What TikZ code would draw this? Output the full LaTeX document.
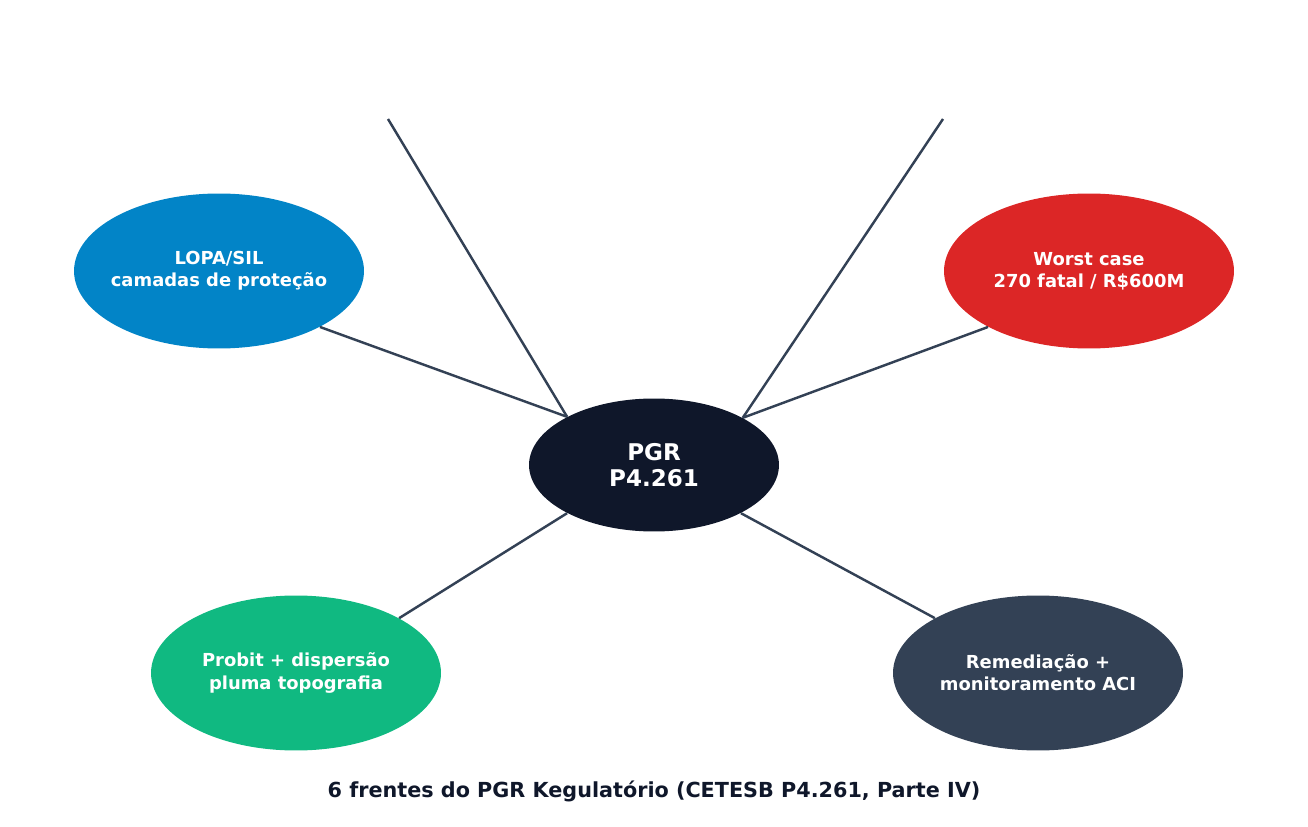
\documentclass[tikz,border=0pt]{standalone}
\usepackage{fontspec}
\setmainfont{DejaVu Sans}
\usetikzlibrary{shapes.geometric}
\definecolor{lopablue}{HTML}{0284C7}
\definecolor{worstred}{HTML}{DC2626}
\definecolor{probitgreen}{HTML}{10B981}
\definecolor{slate}{HTML}{334155}
\definecolor{navy}{HTML}{0F172A}
\begin{document}
\begin{tikzpicture}[x=0.02cm,y=-0.02cm,
  front/.style={ellipse,inner xsep=-0.3cm,inner ysep=0pt,minimum width=5.8cm,minimum height=3.1cm,
    text=white,align=center,font=\bfseries\fontsize{10.2}{12.6}\selectfont},
  link/.style={draw=slate,line width=1.4pt}]
\useasboundingbox (0,0) rectangle (1308,827);

\node[ellipse,fill=navy,inner xsep=-0.3cm,inner ysep=0pt,minimum width=5cm,minimum height=2.66cm,
  text=white,align=center,font=\bfseries\fontsize{13.1}{15}\selectfont]
  (pgr) at (654,465) {PGR\\P4.261};

\node[front,fill=lopablue] (lopa) at (219,271) {LOPA/SIL\\camadas de proteção};
\node[front,fill=worstred] (worst) at (1089,271) {Worst case\\270 fatal / R\$600M};
\node[front,fill=probitgreen] (probit) at (296,673) {Probit + dispersão\\pluma topografia};
\node[front,fill=slate] (remed) at (1038,673) {Remediação +\\monitoramento ACI};

\coordinate (topl) at (388,119);
\coordinate (topr) at (943,119);

\draw[link] (pgr.151) -- (lopa.-29);
\draw[link] (pgr.151) -- (topl);
\draw[link] (pgr.28) -- (worst.-151);
\draw[link] (pgr.28) -- (topr);
\draw[link] (pgr.-151) -- (probit.28);
\draw[link] (pgr.-29) -- (remed.152);

\node[text=navy,font=\bfseries\fontsize{11.8}{14}\selectfont] (caption) at (654,791)
  {6 frentes do PGR Kegulatório (CETESB P4.261, Parte IV)};
\end{tikzpicture}
\end{document}
